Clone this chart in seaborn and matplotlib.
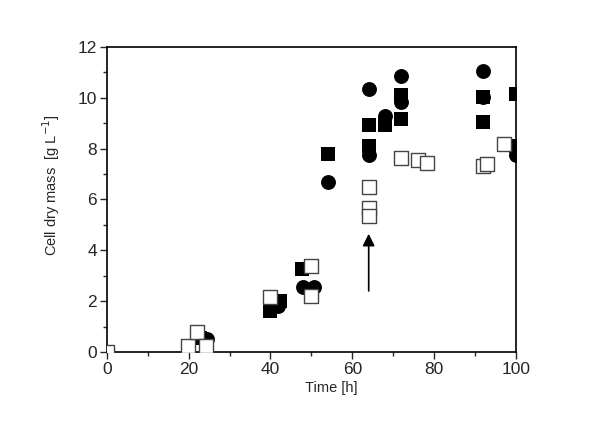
import numpy as np
import pandas as pd
import matplotlib
matplotlib.use("Agg")
import matplotlib.pyplot as plt
import seaborn as sns
from matplotlib.ticker import MultipleLocator

# filled circles
circ_t = [24.4, 41.8, 48, 50.6, 54, 64, 64, 68, 72, 72, 92, 92, 100]
circ_x = [0.5, 1.8, 2.55, 2.55, 6.7, 10.35, 7.75, 9.3, 10.85, 9.85, 11.05, 10.05, 7.75]

# filled squares
sq_t = [22.7, 40, 42.3, 47.7, 54, 64, 64, 68, 72, 72, 92, 92, 100, 100]
sq_x = [0.55, 1.6, 2.0, 3.25, 7.8, 8.95, 8.1, 8.95, 10.1, 9.15, 10.05, 9.05, 10.15, 8.1]

# open squares
osq_t = [0, 19.8, 22, 24.2, 40, 50, 50, 64, 64, 64, 72, 76, 78.2, 92, 93, 97]
osq_x = [0, 0.25, 0.8, 0.25, 2.15, 3.4, 2.2, 6.5, 5.65, 5.35, 7.65, 7.55, 7.45, 7.3, 7.4, 8.2]

arrow_t = 64
arrow_from = 2.4
arrow_to = 4.65

sns.set_style("white")
plt.rcParams['font.family'] = ['Liberation Sans', 'DejaVu Sans']

fig = plt.figure(figsize=(6, 4.24), dpi=100)
ax = fig.add_axes([0.178, 0.17, 0.682, 0.719])

sns.scatterplot(x=sq_t, y=sq_x, marker='s', s=88, color='black',
                edgecolor='black', linewidth=0, ax=ax, zorder=3)
sns.scatterplot(x=circ_t, y=circ_x, marker='o', s=115, color='black',
                edgecolor='black', linewidth=0, ax=ax, zorder=4)
sns.scatterplot(x=osq_t, y=osq_x, marker='s', s=88, color='white',
                edgecolor='#444444', linewidth=1.0, ax=ax, zorder=5)

ax.annotate('', xy=(arrow_t, arrow_to), xytext=(arrow_t, arrow_from),
            arrowprops=dict(arrowstyle='-|>', color='black', lw=1.2,
                            mutation_scale=18, shrinkA=0, shrinkB=0))

ax.set_xlim(0, 100)
ax.set_ylim(0, 12)
ax.xaxis.set_major_locator(MultipleLocator(20))
ax.xaxis.set_minor_locator(MultipleLocator(10))
ax.yaxis.set_major_locator(MultipleLocator(2))
ax.yaxis.set_minor_locator(MultipleLocator(1))
ax.tick_params(which='major', direction='out', length=5, width=1, labelsize=12.5,
               bottom=True, left=True, top=False, right=False, pad=2)
ax.tick_params(which='minor', direction='out', length=3, width=1,
               bottom=True, left=True, top=False, right=False)
for sp in ax.spines.values():
    sp.set_color('black')
    sp.set_linewidth(1.2)

ax.set_xlabel('Time [h]', fontsize=10.5)
ax.set_ylabel('Cell dry mass  [g L$^{-1}$]', fontsize=10.5)
ax.xaxis.set_label_coords(0.548, -0.095)
ax.yaxis.set_label_coords(-0.11, 0.548)

fig.savefig('out.png', dpi=100)
